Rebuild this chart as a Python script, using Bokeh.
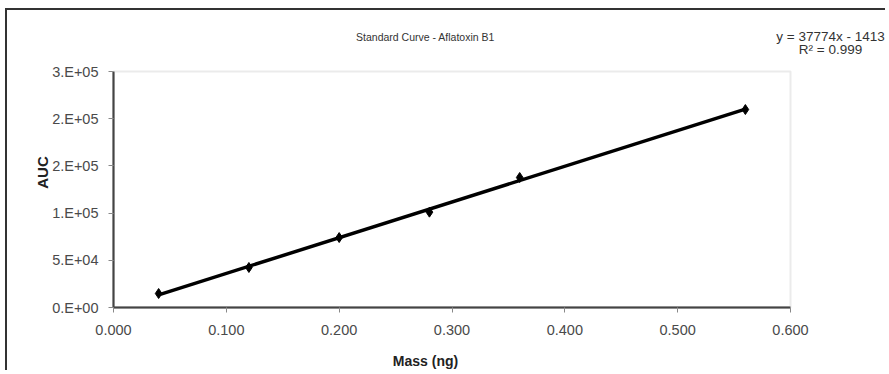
import numpy as np
from bokeh.plotting import figure
from bokeh.models import FixedTicker, Label, Range1d, LinearAxis, BoxAnnotation
from bokeh.embed import file_html
from bokeh.resources import INLINE

# Data
mass_ng = [0.04, 0.12, 0.20, 0.28, 0.36, 0.56]
auc = [14800, 42400, 74100, 101000, 137700, 209700]

x_ticks = [0.0, 0.1, 0.2, 0.3, 0.4, 0.5, 0.6]
x_tick_labels = ["0.000", "0.100", "0.200", "0.300", "0.400", "0.500", "0.600"]
y_ticks = [0, 50000, 100000, 150000, 200000, 250000]
y_tick_labels = ["0.E+00", "5.E+04", "1.E+05", "2.E+05", "2.E+05", "3.E+05"]
x_min, x_max = 0.0, 0.6
y_min, y_max = 0, 250000

title_text = "Standard Curve - Aflatoxin B1"
eq_line1 = "y = 37774x - 1413"
eq_line2 = "R² = 0.999"
x_label = "Mass (ng)"
y_label = "AUC"

FONT = "Liberation Sans"

# Layout (canvas pixels): plot area inside a full-canvas frame
W, H = 880, 362
PL, PR, PT, PB = 106, 783, 61, 297   # plot-area edges in canvas px
ux = (x_max - x_min) / (PR - PL)
uy = (y_max - y_min) / (PB - PT)
xr = Range1d(x_min - PL * ux, x_max + (W - PR) * ux)
yr = Range1d(y_min - (H - PB) * uy, y_max + PT * uy)

p = figure(width=W, height=H, output_backend="svg", toolbar_location=None, title=None,
           x_range=xr, y_range=yr, x_axis_type=None, y_axis_type=None,
           min_border_left=0, min_border_right=0, min_border_top=0, min_border_bottom=0)
p.styles = {"border-left": "2px solid #333333", "border-top": "2px solid #333333",
            "margin-left": "5px", "margin-top": "8px"}
p.grid.visible = False
p.outline_line_color = None

# plot-area outline (grey top/right edges, like the reference)
p.add_layout(BoxAnnotation(left=x_min, right=x_max, bottom=y_min, top=y_max,
                           fill_color=None, line_color="#bdbdbd", line_width=2))

xa = LinearAxis(fixed_location=y_min, bounds=(x_min, x_max), ticker=FixedTicker(ticks=x_ticks))
ya = LinearAxis(fixed_location=x_min, bounds=(y_min, y_max), ticker=FixedTicker(ticks=y_ticks))
xa.major_label_overrides = {t: l for t, l in zip(x_ticks, x_tick_labels)}
ya.major_label_overrides = {t: l for t, l in zip(y_ticks, y_tick_labels)}
xa.major_label_standoff = 12
ya.major_label_standoff = 10
for ax in (xa, ya):
    ax.axis_line_color = "#111111"
    ax.axis_line_width = 2
    ax.major_tick_line_color = "#888888"
    ax.major_tick_in = 0
    ax.major_tick_out = 5
    ax.minor_tick_line_color = None
    ax.major_label_text_font = FONT
    ax.major_label_text_font_size = "14.5px"
    ax.major_label_text_color = "#4a4a4a"
p.add_layout(xa, "below")
p.add_layout(ya, "left")

# Linear trendline fitted to the data
coef = np.polyfit(mass_ng, auc, 1)
fx = [min(mass_ng), max(mass_ng)]
fy = [coef[0] * v + coef[1] for v in fx]
p.line(fx, fy, line_color="black", line_width=3.5)
p.scatter(mass_ng, auc, marker="diamond", size=10, color="black")

def lab(x, y, text, font=FONT, size="14px", style="normal", angle=0.0, color="#333333"):
    p.add_layout(Label(x=x, y=y, x_units="canvas", y_units="canvas", text=text,
                       text_font=font, text_font_size=size, text_font_style=style,
                       angle=angle, text_align="center", text_baseline="middle",
                       text_color=color))

lab(416, 24, title_text, size="10.5px")
lab(821, 24, eq_line1, size="13.5px")
lab(821, 37, eq_line2, size="13.5px")
lab(416, 348, x_label, style="bold", color="#222222")
lab(33, 160, y_label, size="15px", style="bold", angle=np.pi / 2, color="#222222")

open("out.html", "w").write(file_html(p, INLINE))
